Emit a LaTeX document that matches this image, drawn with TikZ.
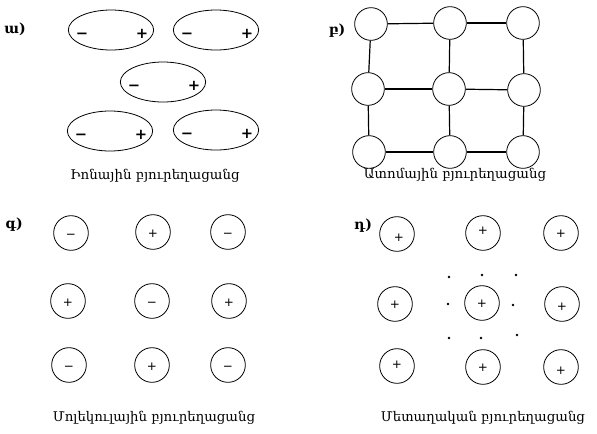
\documentclass[tikz,border=0pt]{standalone}
\usepackage{fontspec}
\setmainfont{DejaVu Serif}
\newfontfamily\signfont{DejaVu Sans}
\usetikzlibrary{shapes.geometric}
\begin{document}
\begin{tikzpicture}[x=0.75pt,y=-0.75pt,
  ion/.style={draw,ellipse,minimum width=64pt,minimum height=30pt,inner sep=0pt,line width=0.6pt},
  atom/.style={draw,circle,minimum size=24.5pt,inner sep=0pt,line width=0.6pt},
  ball/.style={draw,circle,minimum size=26pt,inner sep=0pt,line width=0.6pt},
  bigsign/.style={font=\signfont\bfseries\fontsize{11}{12}\selectfont,text height=8pt,text depth=0pt,inner sep=0pt},
  sign/.style={font=\signfont\fontsize{9}{10}\selectfont,text height=6.5pt,text depth=0pt,inner sep=0pt},
  plab/.style={font=\bfseries\fontsize{10.5}{12}\selectfont},
  captext/.style={font=\fontsize{10}{12}\selectfont},
  link/.style={line width=0.9pt},
  elec/.style={fill,circle,inner sep=0pt,minimum size=2.2pt}]
\useasboundingbox (0,0) rectangle (597,433);
% ---------- panel a ----------
\node[plab] (la) at (15,29) {ա)};
\foreach \n/\x/\y in {a1/111/30, a2/216/30, a3/163/82, a4/110/131, a5/216/130}{
  \node[ion] (\n) at (\x,\y) {};
  \node[bigsign] (\n m) at ([xshift=-29*0.75pt,yshift=-3*0.75pt]\n.center) {−};
  \node[bigsign] (\n p) at ([xshift=31*0.75pt,yshift=-3*0.75pt]\n.center) {+};
}
\node[captext] (capa) at (155,176) {Իոնային բյուրեղացանց};
% ---------- panel b ----------
\node[plab] (lb) at (337,31) {բ)};
\node[atom] (b11) at (371,24) {};
\node[atom] (b12) at (450,23) {};
\node[atom] (b13) at (523,23) {};
\node[atom] (b21) at (368,89) {};
\node[atom] (b22) at (449,89) {};
\node[atom] (b23) at (524,90) {};
\node[atom] (b31) at (369,152) {};
\node[atom] (b32) at (450,152) {};
\node[atom] (b33) at (523,152) {};
\draw[link] (b11) -- (b12); \draw[link] (b12) -- (b13);
\draw[link] (b21) -- (b22); \draw[link] (b22) -- (b23);
\draw[link] (b31) -- (b32); \draw[link] (b32) -- (b33);
\draw[link] (b11) -- (b21); \draw[link] (b21) -- (b31);
\draw[link] (b12) -- (b22); \draw[link] (b22) -- (b32);
\draw[link] (b13) -- (b23); \draw[link] (b23) -- (b33);
\node[captext] (capb) at (455,175) {Ատոմային բյուրեղացանց};
% ---------- panel c ----------
\node[plab] (lc) at (14,225) {գ)};
\foreach \n/\x/\y/\s in {c11/71/233/−, c12/153/232/+, c13/228/232/−,
                          c21/68/301/+, c22/152/301/−, c23/229/301/+,
                          c31/69/365/−, c32/152/365/+, c33/228/365/−}{
  \node[ball] (\n) at (\x,\y) {};
  \node[sign] (\n s) at ([yshift=-1pt]\n.center) {\s};
}
\node[captext] (capc) at (154,418) {Մոլեկուլային բյուրեղացանց};
% ---------- panel d ----------
\node[plab] (ld) at (363,226) {դ)};
\foreach \n/\x/\y/\sx/\sy in {d11/397/234/2/3, d12/483/233/0/-3, d13/561/233/0/0,
                          d21/395/304/0/0, d22/482/303/0/0, d23/562/304/0/2,
                          d31/397/366/0/-2, d32/483/367/0/0, d33/561/367/0/3}{
  \node[ball] (\n) at (\x,\y) {};
  \node[sign] (\n s) at ([xshift=\sx*0.75pt,yshift=-\sy*0.75pt]\n.center) {+};
}
\foreach \n/\x/\y in {e1/449/277, e2/482/275, e3/516/275, e4/448/304,
                       e5/513/305, e6/449/338, e7/481/338, e8/517/335}{
  \node[elec] (\n) at (\x,\y) {};
}
\node[captext] (capd) at (483,418) {Մետաղական բյուրեղացանց};
\end{tikzpicture}
\end{document}
